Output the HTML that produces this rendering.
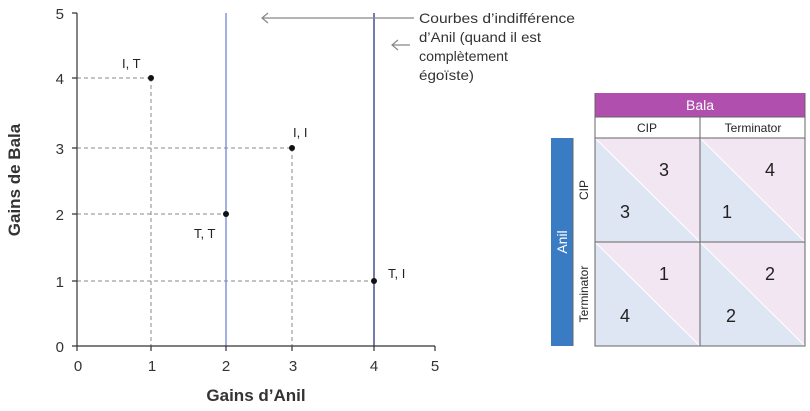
<!DOCTYPE html>
<html><head><meta charset="utf-8"><style>
body{margin:0;background:#fff;}
svg{display:block;font-family:"Liberation Sans",sans-serif;}
</style></head><body>
<svg width="810" height="411" viewBox="0 0 810 411">
<g stroke="#888" stroke-dasharray="4,3" stroke-width="1">
<line x1="77" y1="78" x2="151" y2="78"/><line x1="151" y1="78" x2="151" y2="346"/>
<line x1="77" y1="148" x2="292" y2="148"/><line x1="292" y1="148" x2="292" y2="346"/>
<line x1="77" y1="214" x2="226" y2="214"/>
<line x1="77" y1="281" x2="374" y2="281"/>
</g>
<line x1="226" y1="13" x2="226" y2="346" stroke="#6f86d6" stroke-width="1.3"/>
<line x1="374" y1="13" x2="374" y2="346" stroke="#2a3480" stroke-width="1.3"/>
<g stroke="#333" stroke-width="1.2" fill="none">
<path d="M77 13V346H435"/>
<path d="M72 13H77M72 78H77M72 148H77M72 214H77M72 281H77M72 346H77"/>
<path d="M77 346V351M151 346V351M226 346V351M292 346V351M374 346V351M435 346V351"/>
</g>
<g fill="#111"><circle cx="151" cy="78" r="3"/><circle cx="292" cy="148" r="3"/><circle cx="226" cy="214" r="3"/><circle cx="374" cy="281" r="3"/></g>
<g font-size="15" fill="#333" text-anchor="middle">
<text x="78" y="371">0</text><text x="152" y="371">1</text><text x="226" y="371">2</text><text x="293" y="371">3</text><text x="374" y="371">4</text><text x="435" y="371">5</text>
</g>
<g font-size="15" fill="#333" text-anchor="end">
<text x="64" y="19">5</text><text x="64" y="84">4</text><text x="64" y="154">3</text><text x="64" y="220">2</text><text x="64" y="287">1</text><text x="64" y="352">0</text>
</g>
<g font-size="13" fill="#222">
<text x="122" y="68">I, T</text><text x="293" y="137">I, I</text><text x="194" y="238">T, T</text><text x="388" y="278">T, I</text>
</g>
<text x="256" y="401" font-size="17" font-weight="bold" fill="#333" text-anchor="middle">Gains d’Anil</text>
<text transform="translate(20,180) rotate(-90)" font-size="17" font-weight="bold" fill="#333" text-anchor="middle">Gains de Bala</text>
<g stroke="#888" stroke-width="1.2" fill="none">
<path d="M414 18H262M268 13L262 18L268 23"/>
<path d="M410 45H392M398 40L392 45L398 50"/>
</g>
<g font-size="14" fill="#333">
<text x="419" y="23" textLength="156" lengthAdjust="spacingAndGlyphs">Courbes d’indifférence</text>
<text x="419" y="42" textLength="122" lengthAdjust="spacingAndGlyphs">d’Anil (quand il est</text>
<text x="419" y="61" textLength="89" lengthAdjust="spacingAndGlyphs">complètement</text>
<text x="419" y="80" textLength="55" lengthAdjust="spacingAndGlyphs">égoïste)</text>
</g>
<rect x="595" y="93" width="210" height="24" fill="#b04fae"/>
<text x="700" y="110" font-size="14" fill="#fff" text-anchor="middle">Bala</text>
<rect x="551" y="138" width="22" height="208" fill="#3a7cc4"/>
<text transform="translate(567,242) rotate(-90)" font-size="14" fill="#fff" text-anchor="middle">Anil</text>
<g>
<polygon points="595,138 700,138 700,242" fill="#f2e6f2"/><polygon points="595,138 595,242 700,242" fill="#dfe6f3"/>
<polygon points="700,138 805,138 805,242" fill="#f2e6f2"/><polygon points="700,138 700,242 805,242" fill="#dfe6f3"/>
<polygon points="595,242 700,242 700,346" fill="#f2e6f2"/><polygon points="595,242 595,346 700,346" fill="#dfe6f3"/>
<polygon points="700,242 805,242 805,346" fill="#f2e6f2"/><polygon points="700,242 700,346 805,346" fill="#dfe6f3"/>
</g>
<g stroke="#fff" stroke-width="1"><line x1="595" y1="138" x2="700" y2="242"/><line x1="700" y1="138" x2="805" y2="242"/><line x1="595" y1="242" x2="700" y2="346"/><line x1="700" y1="242" x2="805" y2="346"/></g>
<g stroke="#666" stroke-width="1" fill="none">
<path d="M595 117H805V346H595Z"/><path d="M595 93V117M805 93V117"/>
<path d="M700 117V346M595 138H805M595 242H805M573 138V346"/>
</g>
<g font-size="12" fill="#222" text-anchor="middle">
<text x="647" y="132">CIP</text><text x="753" y="132">Terminator</text>
<text transform="translate(588,190) rotate(-90)">CIP</text>
<text transform="translate(588,294) rotate(-90)">Terminator</text>
</g>
<g font-size="18" fill="#222" text-anchor="middle">
<text x="664" y="176">3</text><text x="625" y="218">3</text>
<text x="770" y="176">4</text><text x="727" y="218">1</text>
<text x="664" y="280">1</text><text x="625" y="322">4</text>
<text x="770" y="280">2</text><text x="731" y="322">2</text>
</g>
</svg>
</body></html>
